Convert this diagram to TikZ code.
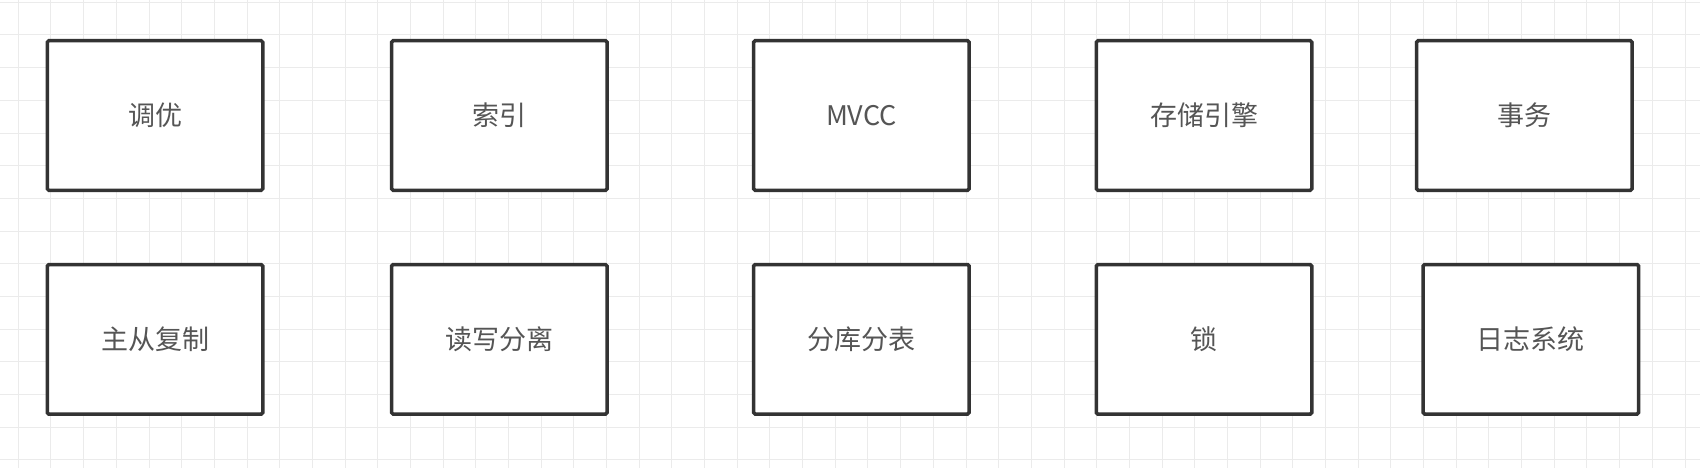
\documentclass[tikz,border=0pt]{standalone}
\usepackage{fontspec}
\setmainfont{Noto Sans CJK SC}
\definecolor{gridc}{HTML}{EBEBEB}
\definecolor{boxc}{HTML}{333333}
\definecolor{txtc}{HTML}{555555}
\tikzset{
  topic/.style={draw=boxc, line width=3.5pt, fill=white, rounded corners=1.5pt,
    minimum width=215.5pt, minimum height=149.5pt, inner sep=0pt, outer sep=0pt,
    text=txtc, font=\fontsize{27}{32}\selectfont},
  gridline/.style={draw=gridc, line width=1pt}
}
\begin{document}
\begin{tikzpicture}[x=1pt,y=-1pt]
\useasboundingbox[fill=white] (0,0) rectangle (1700,468);
\foreach \k in {0,...,51} { \draw[gridline] ({18.3+\k*32.68},0) -- ({18.3+\k*32.68},468); }
\foreach \k in {0,...,14} { \draw[gridline] (0,{2.3+\k*32.68}) -- (1700,{2.3+\k*32.68}); }
\node[topic] (tiaoyou) at (155,115.5) {调优};
\node[topic] (suoyin) at (499.3,115.5) {索引};
\node[topic] (mvcc) at (861.4,115.5) {MVCC};
\node[topic] (engine) at (1204,115.5) {存储引擎};
\node[topic] (shiwu) at (1524.4,115.5) {事务};
\node[topic] (zhucong) at (155,339.3) {主从复制};
\node[topic] (duxie) at (499.3,339.3) {读写分离};
\node[topic] (fenku) at (861.4,339.3) {分库分表};
\node[topic] (suo) at (1204,339.3) {锁};
\node[topic] (rizhi) at (1530.9,339.3) {日志系统};
\end{tikzpicture}
\end{document}
